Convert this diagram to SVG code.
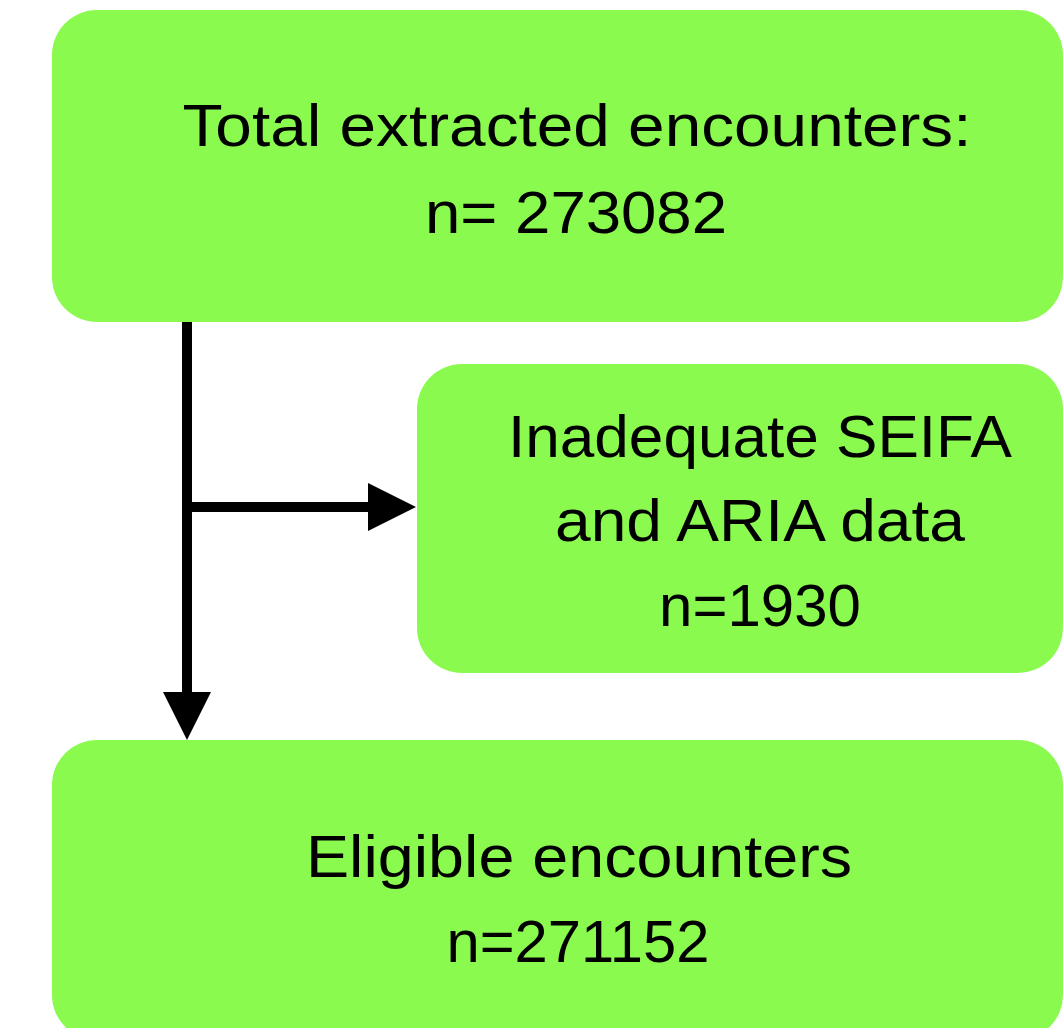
<svg xmlns="http://www.w3.org/2000/svg" width="1063" height="1028" viewBox="0 0 1063 1028">
  <style>
    .box { fill: #8bfa4f; }
    .t { font-family: "Liberation Sans", Arial, Helvetica, sans-serif; font-size: 60px; fill: #000; text-anchor: middle; }
    .conn { stroke: #000; stroke-width: 10; fill: none; }
  </style>
  <defs>
    <marker id="arrow" markerUnits="userSpaceOnUse" markerWidth="48" markerHeight="48" refX="0" refY="24" orient="auto" overflow="visible">
      <path d="M0,0 L48,24 L0,48 Z" fill="#000"/>
    </marker>
  </defs>
  <rect x="0" y="0" width="1063" height="1028" fill="#fff"/>
  <g id="node-total">
    <rect class="box" x="52" y="10" width="1011" height="312" rx="45" ry="45"/>
    <text class="t" x="577" y="146" textLength="789" lengthAdjust="spacingAndGlyphs">Total extracted encounters:</text>
    <text class="t" x="576" y="233" textLength="302" lengthAdjust="spacingAndGlyphs">n= 273082</text>
  </g>
  <g id="node-inadequate">
    <rect class="box" x="417" y="364" width="646" height="309" rx="45" ry="45"/>
    <text class="t" x="760" y="457" textLength="504" lengthAdjust="spacingAndGlyphs">Inadequate SEIFA</text>
    <text class="t" x="760" y="541" textLength="410" lengthAdjust="spacingAndGlyphs">and ARIA data</text>
    <text class="t" x="760" y="626">n=1930</text>
  </g>
  <g id="node-eligible">
    <rect class="box" x="52" y="740" width="1011" height="300" rx="45" ry="45"/>
    <text class="t" x="579" y="877" textLength="546" lengthAdjust="spacingAndGlyphs">Eligible encounters</text>
    <text class="t" x="578" y="962" textLength="263" lengthAdjust="spacingAndGlyphs">n=271152</text>
  </g>
  <g id="connectors">
    <line class="conn" x1="187" y1="322" x2="187" y2="692" marker-end="url(#arrow)"/>
    <line class="conn" x1="187" y1="507" x2="368" y2="507" marker-end="url(#arrow)"/>
  </g>
</svg>
